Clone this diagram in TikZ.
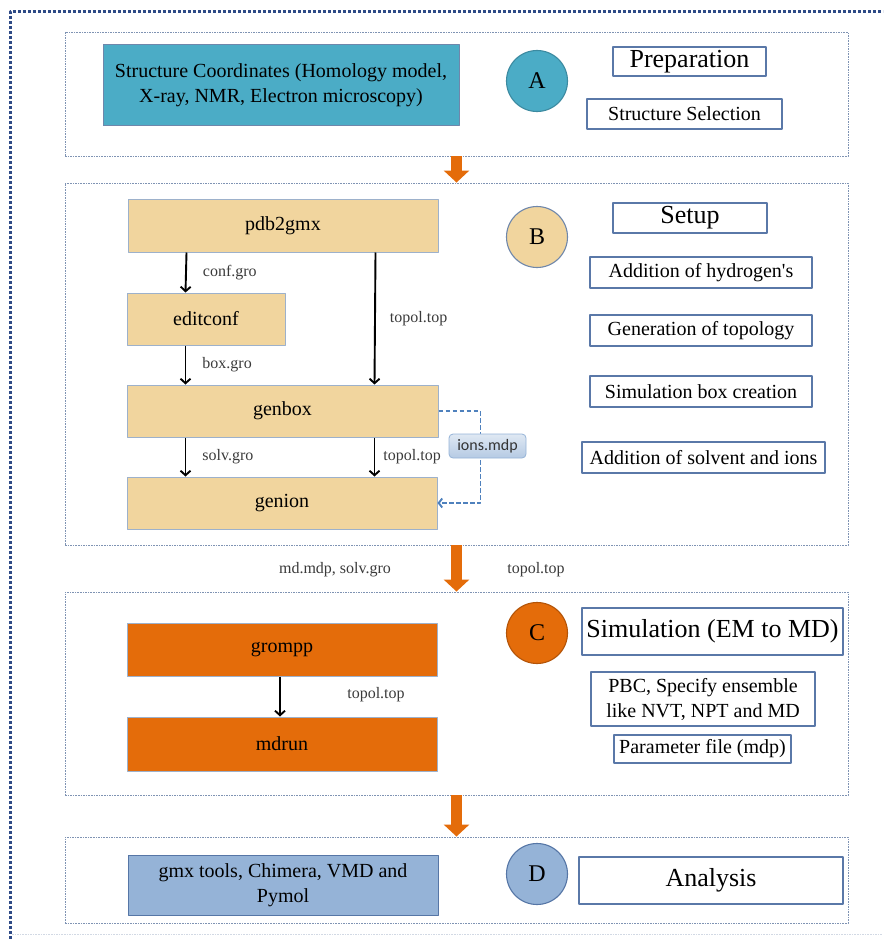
\documentclass[tikz,border=0pt]{standalone}
\usepackage{fontspec}
\setmainfont{Liberation Serif}
\newfontfamily\calibri{Carlito}
\usetikzlibrary{arrows.meta}
\definecolor{frameblue}{HTML}{2E4A86}
\definecolor{panelblue}{HTML}{7F93B3}
\definecolor{tagrim}{HTML}{5A78A8}
\definecolor{toolrim}{HTML}{9DB1CB}
\definecolor{prepfill}{HTML}{4BACC6}
\definecolor{preprim}{HTML}{3C8AA0}
\definecolor{setupfill}{HTML}{F1D59E}
\definecolor{setuprim}{HTML}{6F87AB}
\definecolor{simfill}{HTML}{E46C0A}
\definecolor{simrim}{HTML}{B35408}
\definecolor{anafill}{HTML}{95B3D7}
\definecolor{anarim}{HTML}{5676A6}
\definecolor{filegrey}{HTML}{3A3A3A}
\definecolor{ionline}{HTML}{4F81BD}
\begin{document}
\begin{tikzpicture}[x=1pt, y=-1pt, line join=round,
	panel/.style={draw=panelblue, line width=0.9pt, dash pattern=on 1.6pt off 1pt, inner sep=0, minimum width=783pt},
	tool/.style={draw=toolrim, line width=1pt, inner sep=0, align=center, font=\fontsize{20}{25}\selectfont},
	tag/.style={draw=tagrim, fill=white, line width=1.2pt, inner sep=0, align=center, font=\fontsize{20}{25}\selectfont},
	head/.style={tag, font=\fontsize{26}{30}\selectfont},
	stage/.style={circle, minimum size=61pt, inner sep=0, line width=1.1pt, font=\fontsize{24}{28}\selectfont},
	file/.style={inner sep=0, text=filegrey, font=\fontsize{16}{18}\selectfont},
	flow/.style={-{Straight Barb[length=4.5pt,width=10pt]}, line width=1.9pt},
	bigarrow/.style={draw=simfill, line width=11pt, line cap=butt, -{Triangle[width=25pt,length=12pt]}},
	]
	\useasboundingbox (0,0) rectangle (883,939);
	\def\lx{59} \def\rx{248} % arrow columns inside B
	% outer frame
	\draw[frameblue, line width=3pt, dash pattern=on 2.6pt off 2.4pt] (10,939) -- (10,12) -- (883,12);
	\draw[panelblue!35, line width=1pt, dash pattern=on 1.6pt off 1pt] (12,934) -- (883,934);
	% panels
	\node[panel, minimum height=124pt] (pA) at (456.5,94) {};
	\node[panel, minimum height=362pt] (pB) at (456.5,364) {};
	\node[panel, minimum height=203pt] (pC) at (456.5,693.5) {};
	\node[panel, minimum height=86pt] (pD) at (456.5,880) {};
	\draw[bigarrow] (pA.south) -- (pB.north);
	\draw[bigarrow] (pB.south) -- (pC.north);
	\draw[bigarrow] (pC.south) -- (pD.north);
	% A: preparation
	\node[tool, fill=prepfill, draw=setuprim, minimum width=356pt, minimum height=81pt] (coords) at (281,85.5) {Structure Coordinates (Homology model,\\X-ray, NMR, Electron microscopy)};
	\node[stage, fill=prepfill, draw=preprim] (cA) at (537,81) {A};
	\node[head, minimum width=153pt, minimum height=29pt] (prep) at (689.5,61.5) {Preparation};
	\node[tag, minimum width=195pt, minimum height=30pt] (select) at (684.5,114) {Structure Selection};
	% B: setup
	\node[tool, fill=setupfill, minimum width=310pt, minimum height=53pt] (pdb) at (283,225.5) {pdb2gmx};
	\node[tool, fill=setupfill, minimum width=158pt, minimum height=52pt] (edit) at (206,319) {editconf};
	\node[tool, fill=setupfill, minimum width=311pt, minimum height=52pt] (genbox) at (282.5,411) {genbox};
	\node[tool, fill=setupfill, minimum width=310pt, minimum height=52pt] (genion) at (282,503) {genion};
	\draw[flow] ([xshift=\lx pt]pdb.south west) -- ([xshift=\lx pt]edit.north west) node[file, midway, right=16pt] (f1) {conf.gro};
	\draw[flow] ([xshift=\lx pt]edit.south west) -- ([xshift=\lx pt]genbox.north west) node[file, midway, right=16pt] (f2) {box.gro};
	\draw[flow] ([xshift=\rx pt]pdb.south west) -- ([xshift=\rx pt]genbox.north west) node[file, midway, right=14pt] (f3) {topol.top};
	\draw[flow] ([xshift=\lx pt]genbox.south west) -- ([xshift=\lx pt]genion.north west) node[file, midway, right=16pt] (f4) {solv.gro};
	\draw[flow] ([xshift=\rx pt]genbox.south west) -- ([xshift=\rx pt]genion.north west) node[file, midway, right=8pt] (f5) {topol.top};
	\draw[ionline, line width=1.9pt, dash pattern=on 4.5pt off 2.5pt, -{Straight Barb[length=3.5pt,width=9pt]}] (genbox.east) -- ++(42,0) |- (genion.east);
	\node[draw=ionline!60, line width=0.8pt, rounded corners=4pt, top color=ionline!18, bottom color=ionline!42, text=black!80,
		minimum width=77pt, minimum height=24pt, inner sep=0, font=\calibri\fontsize{16}{18}\selectfont] (ions) at (487.5,446) {ions.mdp};
	\node[stage, fill=setupfill, draw=setuprim] (cB) at (537,237) {B};
	\node[head, minimum width=154pt, minimum height=30pt] (setup) at (690,218) {Setup};
	\node[tag, minimum width=222pt, minimum height=31pt] (hyd) at (701,272.5) {Addition of hydrogen\textquotesingle s};
	\node[tag, minimum width=222pt, minimum height=31pt] (topo) at (701,330.5) {Generation of topology};
	\node[tag, minimum width=222pt, minimum height=31pt] (sbox) at (701,391.5) {Simulation box creation};
	\node[tag, minimum width=243pt, minimum height=31pt] (solv) at (703.5,457.5) {Addition of solvent and ions};
	% files handed on to C
	\node[file] (mdin) at (335,570) {md.mdp, solv.gro};
	\node[file] (topin) at (536,570) {topol.top};
	% C: simulation
	\node[tool, fill=simfill, draw=toolrim, minimum width=310pt, minimum height=53pt] (grompp) at (282,649.5) {grompp};
	\node[tool, fill=simfill, draw=toolrim, minimum width=310pt, minimum height=54pt] (mdrun) at (282,744) {mdrun};
	\draw[flow] ([xshift=-2pt]grompp.south) -- ([xshift=-2pt]mdrun.north);
	\node[file] (f6) at (376,695) {topol.top};
	\node[stage, fill=simfill, draw=simrim] (cC) at (537,633) {C};
	\node[head, minimum width=261pt, minimum height=47pt] (sim) at (712.5,631.5) {Simulation (EM to MD)};
	\node[tag, minimum width=224pt, minimum height=54pt] (pbc) at (703,699) {PBC, Specify ensemble\\like NVT, NPT and MD};
	\node[tag, minimum width=177pt, minimum height=28pt] (param) at (702.5,749) {Parameter file (mdp)};
	% D: analysis
	\node[tool, fill=anafill, draw=anarim, minimum width=310pt, minimum height=60pt] (gmx) at (283,885) {gmx tools, Chimera, VMD and\\Pymol};
	\node[stage, fill=anafill, draw=anarim] (cD) at (537,874) {D};
	\node[head, minimum width=264pt, minimum height=47pt] (ana) at (711,880.5) {Analysis};
\end{tikzpicture}
\end{document}
